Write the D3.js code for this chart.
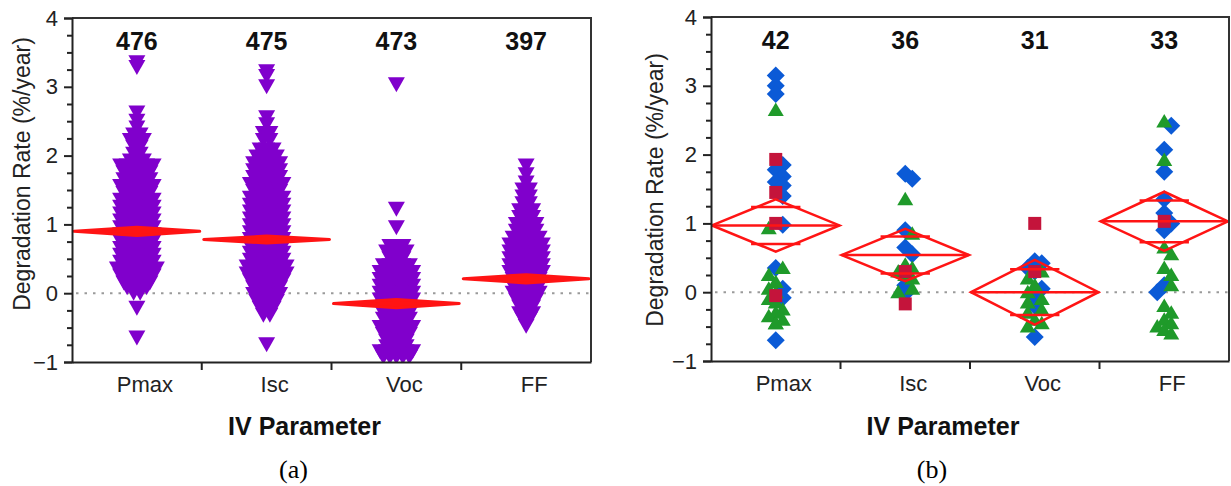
<!DOCTYPE html>
<html><head><meta charset="utf-8">
<script src="https://cdn.jsdelivr.net/npm/d3@7"></script>
<style>body{margin:0;background:#fff} svg{display:block}</style>
</head><body><svg id="c" width="1231" height="486"></svg>
<script>
const categories = ["Pmax","Isc","Voc","FF"];
const countsA = [476,475,473,397];
const countsB = [42,36,31,33];
const yTickValues = [-1,0,1,2,3,4];

// Panel (a): rows of overlapping markers, [value, markers side by side]
const rowsPmaxA = [[3.35,1],[3.28,1],[2.62,1],[2.5,1],[2.4,1],[2.3,2],[2.22,3],[2.12,2],[2.02,2],[1.92,3],[1.85,6],[1.75,5],[1.65,5],[1.55,6],[1.45,5],[1.35,6],[1.25,6],[1.15,6],[1.05,6],[0.95,6],[0.85,6],[0.75,6],[0.65,6],[0.55,6],[0.45,6],[0.35,7],[0.25,6],[0.15,5],[0.08,4],[0.0,2],[-0.22,1],[-0.65,1]];
const rowsIscA = [[3.22,1],[3.15,1],[3.0,1],[2.55,1],[2.45,1],[2.32,2],[2.22,2],[2.08,3],[1.98,4],[1.88,5],[1.78,5],[1.68,5],[1.58,6],[1.48,5],[1.38,6],[1.28,6],[1.18,6],[1.08,6],[0.98,6],[0.88,6],[0.78,6],[0.68,6],[0.58,6],[0.48,6],[0.38,7],[0.28,7],[0.18,6],[0.08,5],[-0.02,5],[-0.12,4],[-0.22,3],[-0.32,2],[-0.75,1]];
const rowsVocA = [[3.03,1],[1.22,1],[0.95,1],[0.68,3],[0.6,4],[0.5,3],[0.4,5],[0.3,6],[0.2,6],[0.1,6],[0.0,6],[-0.1,6],[-0.2,5],[-0.3,5],[-0.38,5],[-0.5,6],[-0.6,5],[-0.7,4],[-0.78,4],[-0.85,6],[-0.93,5]];
const rowsFFA = [[1.85,1],[1.72,1],[1.6,1],[1.5,2],[1.4,2],[1.3,2],[1.2,3],[1.1,3],[1.0,4],[0.9,4],[0.8,5],[0.7,6],[0.6,6],[0.5,6],[0.4,6],[0.3,6],[0.2,5],[0.1,5],[0.0,5],[-0.1,4],[-0.2,3],[-0.3,3],[-0.38,2],[-0.48,1]];
const meansA = [0.9, 0.78, -0.15, 0.21];
const ciHalfA = [0.06, 0.05, 0.06, 0.06];

// Panel (b): individual values per category (Pmax, Isc, Voc, FF)
const blueB = [
  [3.15,3.0,2.88,1.85,1.78,1.68,1.6,1.55,1.4,0.98,0.35,0.05,-0.08,-0.7],
  [1.72,1.65,0.9,0.65,0.55,0.1,-0.02],
  [0.45,0.42,0.35,0.3,0.05,-0.05,-0.2,-0.65],
  [2.42,2.07,1.75,1.35,1.15,1.0,0.9,0.1,0.0]
];
const greenB = [
  [2.65,0.93,0.35,0.25,0.15,0.05,0.0,-0.1,-0.15,-0.25,-0.3,-0.35,-0.4,-0.45,-0.45],
  [1.35,0.85,0.4,0.35,0.3,0.25,0.2,0.05,0.0],
  [0.3,0.2,0.1,0.0,-0.1,-0.15,-0.25,-0.3,-0.4,-0.45,-0.5],
  [2.48,1.92,0.65,0.55,0.35,0.25,0.1,-0.2,-0.3,-0.4,-0.45,-0.5,-0.55,-0.6]
];
const redB = [
  [1.93,1.45,1.0,-0.05],
  [0.3,-0.17],
  [1.0,0.3],
  [1.03]
];
const meansB = [0.97, 0.54, 0.0, 1.03];
const ciHalfB = [0.38, 0.38, 0.47, 0.43];

const PURPLE = "#8000cc", BLUE = "#0b5ad6", GREEN = "#1f9a2a", CRIMSON = "#c4143b", RED = "#ff1414";
const svg = d3.select("#c");
const sans = "Liberation Sans, Arial, sans-serif";

function panel(x0, x1, yTop, yBot, counts, sub, titleX, titleY) {
  const g = svg.append("g");
  const y = d3.scaleLinear().domain([-1, 4]).range([yBot, yTop]);
  const x = d3.scaleBand().domain(categories).range([x0, x1]);
  const clipId = "clip" + x0;
  g.append("clipPath").attr("id", clipId).append("rect")
    .attr("x", x0).attr("y", yTop).attr("width", x1 - x0).attr("height", yBot - yTop);
  g.append("line").attr("x1", x0 + 4).attr("x2", x1).attr("y1", y(0)).attr("y2", y(0))
    .attr("stroke", "#9a9a9a").attr("stroke-width", 2).attr("stroke-dasharray", "2.5,6");
  const plot = g.append("g").attr("clip-path", `url(#${clipId})`);
  g.append("path").attr("d", `M${x0},${yTop}H${x1}V${yBot}`).attr("fill", "none")
    .attr("stroke", "#333").attr("stroke-width", 2);
  const ya = d3.axisLeft(y).tickValues(yTickValues).tickSize(8).tickPadding(6).tickFormat(d3.format("d"));
  const yg = g.append("g").attr("transform", `translate(${x0},0)`).call(ya);
  yg.select(".domain").attr("stroke", "#222").attr("stroke-width", 2);
  yg.selectAll(".tick line").attr("stroke", "#222").attr("stroke-width", 2);
  yg.selectAll("text").attr("font-family", sans).attr("font-size", 22).attr("fill", "#222");
  const minor = d3.range(-1, 4.001, 0.25).filter(v => Math.abs(v - Math.round(v)) > 1e-6);
  const ym = d3.axisLeft(y).tickValues(minor).tickSize(5).tickFormat("");
  const ymg = g.append("g").attr("transform", `translate(${x0},0)`).call(ym);
  ymg.select(".domain").remove();
  ymg.selectAll(".tick line").attr("stroke", "#222").attr("stroke-width", 2);
  const xa = d3.axisBottom(x).tickSize(0).tickPadding(14);
  const xg = g.append("g").attr("transform", `translate(0,${yBot})`).call(xa);
  xg.select(".domain").attr("stroke", "#222").attr("stroke-width", 2);
  xg.selectAll("text").attr("font-family", sans).attr("font-size", 22).attr("fill", "#222")
    .attr("dx", 8);
  const bounds = categories.slice(1).map(c => x(c));
  g.selectAll("line.bt").data(bounds).join("line").attr("class", "bt")
    .attr("x1", d => d).attr("x2", d => d).attr("y1", yBot).attr("y2", yBot + 8)
    .attr("stroke", "#222").attr("stroke-width", 2);
  g.selectAll("text.cnt").data(counts).join("text").attr("class", "cnt")
    .attr("x", (d, i) => x(categories[i]) + x.bandwidth() / 2).attr("y", yTop + 32)
    .attr("text-anchor", "middle").attr("font-family", sans).attr("font-weight", "bold")
    .attr("font-size", 25).attr("fill", "#111").text(d => d);
  g.append("text").attr("transform", `translate(${titleX},${titleY}) rotate(-90)`)
    .attr("text-anchor", "middle").attr("dominant-baseline", "central")
    .attr("font-family", sans).attr("font-size", 23).attr("fill", "#222").text("Degradation Rate (%/year)");
  const cx = (x0 + x1) / 2;
  g.append("text").attr("x", cx - 27).attr("y", 435).attr("text-anchor", "middle")
    .attr("font-family", sans).attr("font-weight", "bold").attr("font-size", 25).attr("fill", "#111")
    .text("IV Parameter");
  g.append("text").attr("x", cx - 38).attr("y", 478).attr("text-anchor", "middle")
    .attr("font-family", "Liberation Serif, Times New Roman, serif").attr("font-size", 26).attr("fill", "#000")
    .text(sub);
  return {g, plot, x, y};
}

// ---------- Panel (a)
const A = panel(72, 591, 18, 362, countsA, "(a)", 22, 174);
const rowsA = [rowsPmaxA, rowsIscA, rowsVocA, rowsFFA];
const triDown = "M-8.5,-7.5L8.5,-7.5L0,7.5Z";
rowsA.forEach((rows, ci) => {
  const cx = A.x(categories[ci]) + A.x.bandwidth() / 2;
  const pts = [];
  rows.forEach(([v, n]) => { for (let k = 0; k < n; k++) pts.push({v, off: (k - (n - 1) / 2) * 6.5}); });
  A.plot.selectAll(null).data(pts).join("path").attr("d", triDown)
    .attr("transform", d => `translate(${cx + d.off},${A.y(d.v)})`).attr("fill", PURPLE);
});
meansA.forEach((m, ci) => {
  const xl = A.x(categories[ci]) + 2, xr = xl + A.x.bandwidth() - 4, xc = (xl + xr) / 2;
  const h = ciHalfA[ci];
  A.plot.append("path")
    .attr("d", `M${xl},${A.y(m)}L${xc},${A.y(m + h)}L${xr},${A.y(m)}L${xc},${A.y(m - h)}Z`)
    .attr("fill", RED).attr("stroke", RED).attr("stroke-width", 3).attr("stroke-linejoin", "round");
});

// ---------- Panel (b)
const B = panel(711, 1229, 17, 361, countsB, "(b)", 655, 190);
const shapes = {
  blue: {col: BLUE, d: "M0,-9L9,0L0,9L-9,0Z"},
  green: {col: GREEN, d: "M0,-7.5L8,6L-8,6Z"},
  red: {col: CRIMSON, d: "M-6.5,-6.5H6.5V6.5H-6.5Z"}
};
categories.forEach((c, ci) => {
  const cx = B.x(c) + B.x.bandwidth() / 2;
  const items = [];
  blueB[ci].forEach(v => items.push({v, s: "blue", o: 0}));
  greenB[ci].forEach(v => items.push({v, s: "green", o: 1}));
  redB[ci].forEach(v => items.push({v, s: "red", o: 2}));
  const placed = [];
  [...items].sort((a, b) => b.v - a.v).forEach(it => {
    const py = B.y(it.v);
    const cands = [0, 7, -7, 12, -12];
    let best = 0;
    for (const dx of cands) {
      if (!placed.some(p => Math.abs(p.py - py) < 7 && Math.abs(p.dx - dx) < 6)) { best = dx; break; }
    }
    it.dx = best; it.py = py; placed.push(it);
  });
  items.sort((a, b) => a.o - b.o);
  B.plot.selectAll(null).data(items).join("path")
    .attr("d", d => shapes[d.s].d).attr("fill", d => shapes[d.s].col)
    .attr("transform", d => `translate(${cx + d.dx},${d.py})`);
});
meansB.forEach((m, ci) => {
  const w = B.x.bandwidth() - 2;
  const xl = B.x(categories[ci]) + 1, xr = xl + w, xc = (xl + xr) / 2;
  const h = ciHalfB[ci];
  const gg = B.plot.append("g").attr("fill", "none").attr("stroke", RED).attr("stroke-width", 2.5);
  gg.append("path").attr("d", `M${xl},${B.y(m)}L${xc},${B.y(m + h)}L${xr},${B.y(m)}L${xc},${B.y(m - h)}Z`);
  gg.append("line").attr("x1", xl).attr("x2", xr).attr("y1", B.y(m)).attr("y2", B.y(m));
  const o = h * Math.SQRT1_2, hw = (1 - Math.SQRT1_2) * w / 2 + 6;
  [m + o, m - o].forEach(v => gg.append("line").attr("x1", xc - hw).attr("x2", xc + hw)
    .attr("y1", B.y(v)).attr("y2", B.y(v)));
});
</script></body></html>
